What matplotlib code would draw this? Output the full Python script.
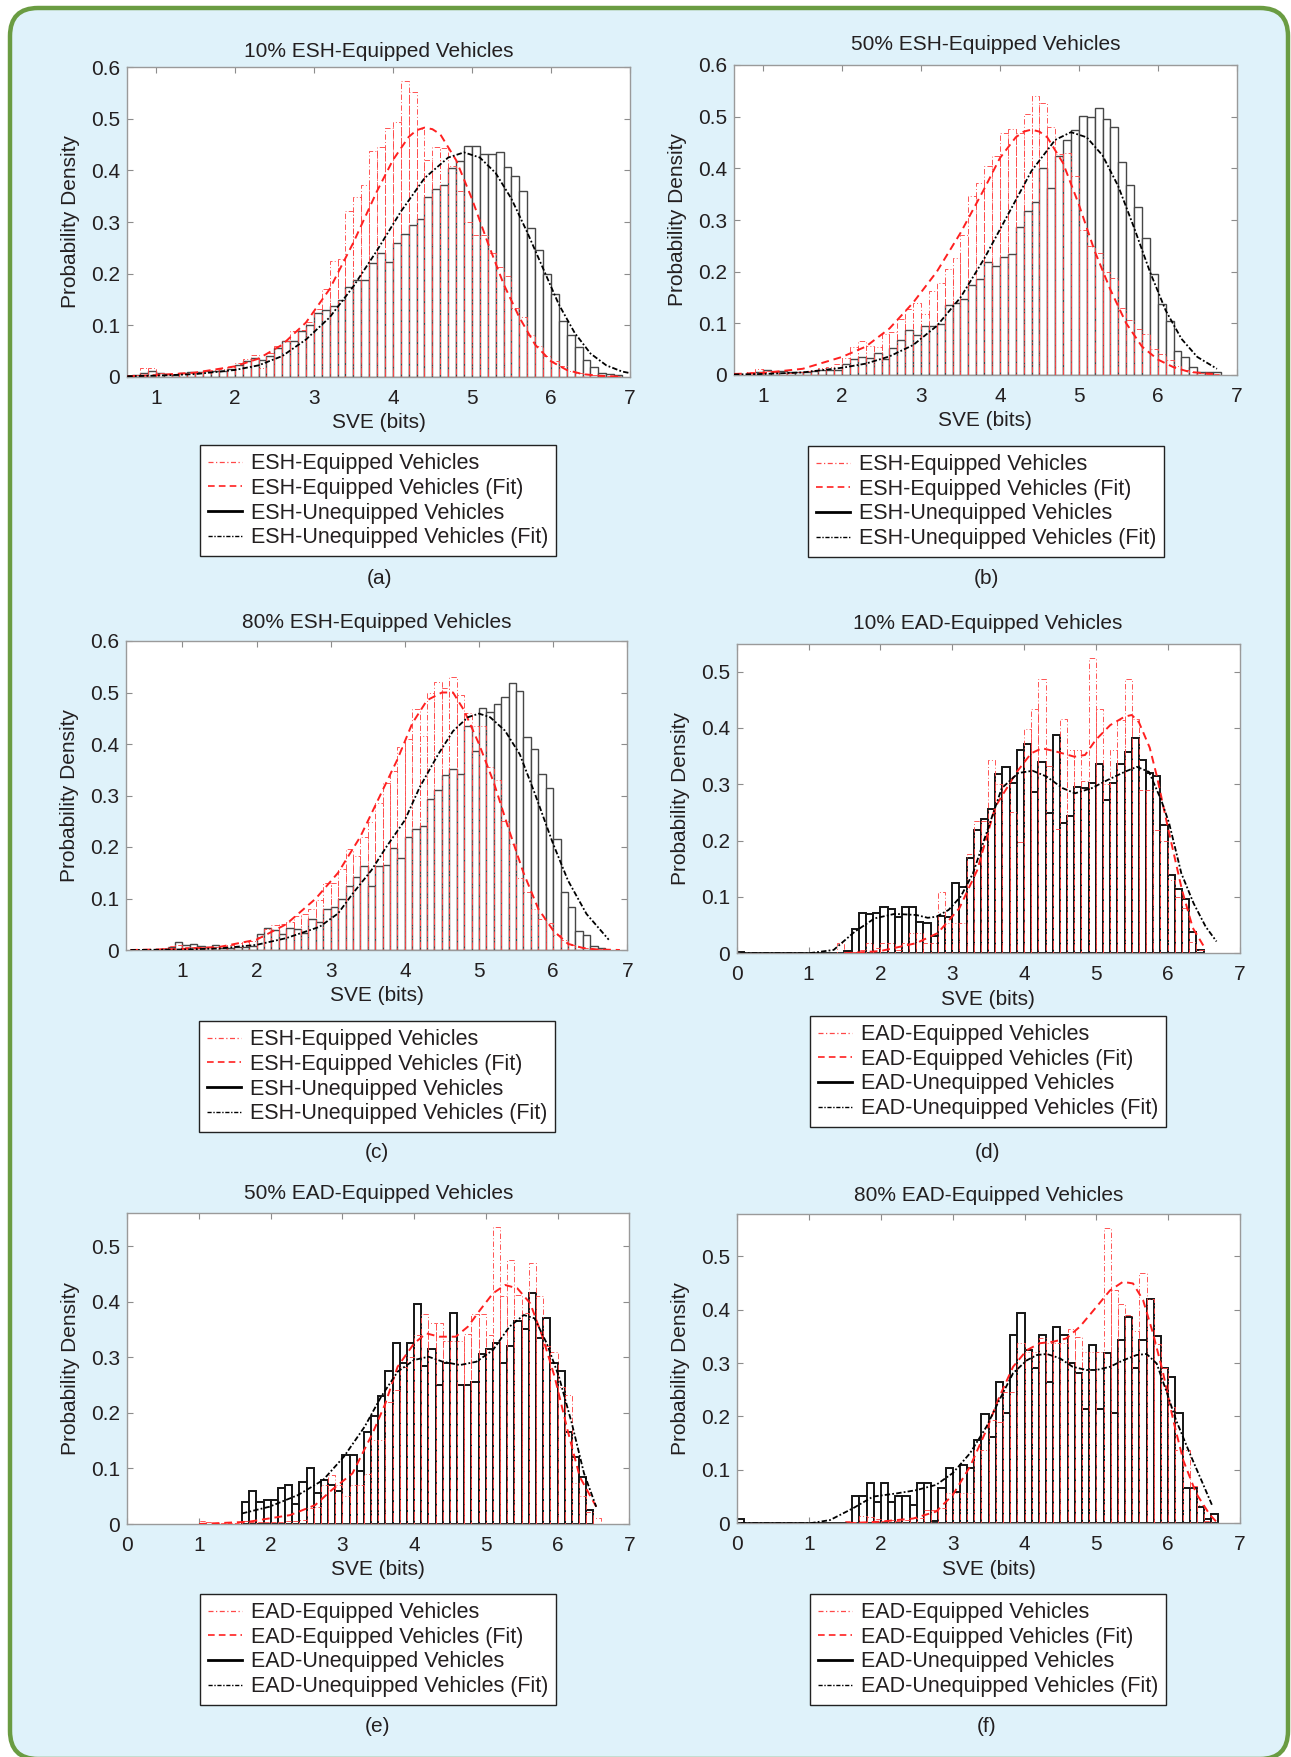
import matplotlib
matplotlib.use('Agg')
import matplotlib.pyplot as plt
import numpy as np
from matplotlib.lines import Line2D
from matplotlib.patches import FancyBboxPatch

plt.rcParams['font.family'] = ['Liberation Sans', 'DejaVu Sans']

BIN_W = 0.1
TXT = '#231f20'
RED = '#ff2020'
RED_EDGE = '#ff4848'

# ---- (a) 10% ESH ----
a_black_start = 0.7
a_black = [0.003, 0.008, 0.011, 0.008, 0.006, 0.004, 0.007, 0.009, 0.010, 0.011,
           0.012, 0.012, 0.014, 0.022, 0.030, 0.037, 0.032, 0.040, 0.055, 0.070,
           0.070, 0.088, 0.101, 0.123, 0.130, 0.138, 0.148, 0.174, 0.187, 0.187,
           0.220, 0.240, 0.223, 0.260, 0.276, 0.295, 0.306, 0.348, 0.364, 0.372,
           0.405, 0.418, 0.448, 0.448, 0.432, 0.432, 0.435, 0.406, 0.390, 0.360,
           0.288, 0.245, 0.199, 0.160, 0.108, 0.081, 0.058, 0.032, 0.018, 0.008,
           0.005, 0.003]
a_red_start = 0.7
a_red = [0.003, 0.017, 0.016, 0.008, 0.005, 0.005, 0.007, 0.008, 0.010, 0.011,
         0.013, 0.015, 0.018, 0.026, 0.034, 0.043, 0.017, 0.045, 0.060, 0.070,
         0.088, 0.090, 0.106, 0.132, 0.170, 0.225, 0.228, 0.322, 0.348, 0.372,
         0.437, 0.445, 0.483, 0.493, 0.574, 0.552, 0.480, 0.420, 0.445, 0.443,
         0.408, 0.360, 0.300, 0.275, 0.275, 0.240, 0.213, 0.196, 0.133, 0.115,
         0.081, 0.060, 0.040, 0.030, 0.020, 0.012, 0.008, 0.005, 0.004, 0.002,
         0.001, 0.001]
a_red_fit_x = [0.64, 1.0, 1.5, 2.0, 2.3, 2.6, 2.9, 3.2, 3.5, 3.8, 4.0, 4.2, 4.3, 4.4,
               4.5, 4.6, 4.8, 5.0, 5.2, 5.4, 5.6, 5.8, 6.0, 6.2, 6.4, 6.6, 6.9]
a_red_fit_y = [0.001, 0.003, 0.008, 0.020, 0.035, 0.062, 0.105, 0.170, 0.260, 0.360,
               0.420, 0.465, 0.478, 0.483, 0.480, 0.470, 0.420, 0.345, 0.260, 0.180,
               0.115, 0.062, 0.030, 0.013, 0.005, 0.002, 0.000]
a_blk_fit_x = [0.64, 1.0, 1.5, 2.0, 2.3, 2.6, 2.9, 3.2, 3.5, 3.8, 4.1, 4.4, 4.7, 4.9,
               5.1, 5.3, 5.5, 5.7, 5.9, 6.1, 6.3, 6.5, 6.7, 6.9, 7.0]
a_blk_fit_y = [0.001, 0.002, 0.005, 0.013, 0.022, 0.040, 0.072, 0.115, 0.175, 0.245,
               0.320, 0.385, 0.425, 0.435, 0.425, 0.395, 0.345, 0.280, 0.210, 0.140,
               0.085, 0.045, 0.022, 0.010, 0.007]

# ---- (b) 50% ESH ----
b_black_start = 0.8
b_black = [0.003, 0.006, 0.010, 0.006, 0.008, 0.005, 0.005, 0.006, 0.007, 0.009,
           0.009, 0.010, 0.022, 0.031, 0.035, 0.033, 0.043, 0.031, 0.052, 0.067,
           0.087, 0.077, 0.095, 0.095, 0.098, 0.135, 0.139, 0.148, 0.174, 0.185,
           0.219, 0.211, 0.228, 0.234, 0.286, 0.318, 0.334, 0.400, 0.361, 0.423,
           0.455, 0.474, 0.501, 0.499, 0.517, 0.495, 0.480, 0.413, 0.368, 0.326,
           0.266, 0.195, 0.137, 0.105, 0.047, 0.034, 0.015, 0.005, 0.005, 0.005]
b_red_start = 0.8
b_red = [0.005, 0.012, 0.007, 0.006, 0.004, 0.004, 0.006, 0.008, 0.009, 0.013,
         0.016, 0.022, 0.033, 0.054, 0.066, 0.056, 0.055, 0.080, 0.083, 0.108,
         0.127, 0.140, 0.118, 0.162, 0.178, 0.205, 0.226, 0.271, 0.347, 0.371,
         0.405, 0.424, 0.468, 0.477, 0.469, 0.506, 0.540, 0.526, 0.480, 0.427,
         0.430, 0.385, 0.280, 0.250, 0.237, 0.200, 0.187, 0.130, 0.106, 0.090,
         0.080, 0.050, 0.040, 0.030, 0.018, 0.010, 0.006, 0.003, 0.002, 0.001]
b_red_fit_x = [0.63, 1.0, 1.5, 2.0, 2.3, 2.6, 2.9, 3.2, 3.5, 3.8, 4.0, 4.2, 4.3, 4.4,
               4.5, 4.6, 4.8, 5.0, 5.2, 5.4, 5.6, 5.8, 6.0, 6.2, 6.4, 6.7]
b_red_fit_y = [0.002, 0.004, 0.012, 0.035, 0.055, 0.090, 0.140, 0.200, 0.275, 0.360,
               0.420, 0.460, 0.471, 0.475, 0.471, 0.460, 0.410, 0.330, 0.240, 0.165,
               0.100, 0.055, 0.030, 0.015, 0.006, 0.002]
b_blk_fit_x = [0.63, 1.0, 1.5, 2.0, 2.3, 2.6, 2.9, 3.2, 3.5, 3.8, 4.1, 4.4, 4.7, 4.9,
               5.1, 5.3, 5.5, 5.7, 5.9, 6.1, 6.3, 6.5, 6.75]
b_blk_fit_y = [0.001, 0.002, 0.005, 0.014, 0.022, 0.036, 0.058, 0.095, 0.150, 0.225,
               0.310, 0.395, 0.455, 0.470, 0.460, 0.425, 0.365, 0.285, 0.200, 0.125,
               0.070, 0.035, 0.012]

# ---- (c) 80% ESH ----
c_black_start = 0.7
c_black = [0.001, 0.006, 0.016, 0.010, 0.011, 0.008, 0.006, 0.009, 0.003, 0.003,
           0.005, 0.006, 0.007, 0.031, 0.043, 0.039, 0.032, 0.043, 0.040, 0.033,
           0.060, 0.055, 0.079, 0.084, 0.100, 0.125, 0.142, 0.163, 0.124, 0.164,
           0.165, 0.199, 0.179, 0.219, 0.234, 0.240, 0.294, 0.310, 0.339, 0.352,
           0.341, 0.435, 0.387, 0.469, 0.463, 0.477, 0.492, 0.519, 0.502, 0.413,
           0.391, 0.341, 0.314, 0.215, 0.112, 0.083, 0.037, 0.029, 0.008, 0.003]
c_red_start = 0.7
c_red = [0.003, 0.008, 0.010, 0.006, 0.005, 0.005, 0.005, 0.006, 0.008, 0.010,
         0.013, 0.016, 0.018, 0.025, 0.040, 0.048, 0.050, 0.055, 0.066, 0.070,
         0.080, 0.097, 0.130, 0.130, 0.158, 0.196, 0.183, 0.220, 0.248, 0.285,
         0.325, 0.347, 0.395, 0.410, 0.467, 0.416, 0.500, 0.520, 0.508, 0.531,
         0.495, 0.460, 0.435, 0.435, 0.355, 0.330, 0.250, 0.205, 0.140, 0.113,
         0.080, 0.060, 0.053, 0.030, 0.020, 0.010, 0.005, 0.003, 0.002, 0.001]
c_red_fit_x = [0.3, 1.0, 1.5, 2.0, 2.4, 2.8, 3.1, 3.4, 3.7, 3.9, 4.1, 4.3, 4.5, 4.65,
               4.8, 5.0, 5.2, 5.4, 5.6, 5.8, 6.0, 6.2, 6.4, 6.6, 6.9]
c_red_fit_y = [0.000, 0.002, 0.006, 0.020, 0.050, 0.100, 0.150, 0.220, 0.310, 0.370,
               0.440, 0.485, 0.500, 0.500, 0.465, 0.400, 0.325, 0.235, 0.150, 0.080,
               0.038, 0.012, 0.004, 0.001, 0.000]
c_blk_fit_x = [0.3, 1.0, 1.5, 2.0, 2.4, 2.85, 3.1, 3.3, 3.55, 3.75, 4.0, 4.2, 4.45,
               4.65, 4.85, 5.0, 5.15, 5.35, 5.55, 5.75, 6.0, 6.2, 6.45, 6.75]
c_blk_fit_y = [0.000, 0.001, 0.003, 0.010, 0.023, 0.045, 0.071, 0.110, 0.155, 0.200,
               0.252, 0.316, 0.380, 0.425, 0.452, 0.459, 0.452, 0.426, 0.380, 0.305,
               0.206, 0.135, 0.070, 0.020]

# ---- (d) 10% EAD ----
d_black_start = 0.0
d_black = [0.002, 0, 0, 0, 0, 0, 0, 0, 0, 0,
           0, 0, 0, 0, 0, 0.004, 0.044, 0.072, 0.069, 0.072,
           0.083, 0.078, 0.064, 0.082, 0.083, 0.056, 0.054, 0.031, 0.067, 0.065,
           0.124, 0.118, 0.170, 0.219, 0.238, 0.256, 0.318, 0.331, 0.302, 0.361,
           0.372, 0.287, 0.340, 0.249, 0.388, 0.232, 0.244, 0.296, 0.293, 0.302,
           0.336, 0.272, 0.302, 0.336, 0.358, 0.382, 0.343, 0.320, 0.315, 0.228,
           0.139, 0.114, 0.096, 0.037, 0.006]
d_red_start = 1.4
d_red = [0.018, 0.002, 0.002, 0.006, 0.018, 0.010, 0.018, 0.018, 0.006, 0.018,
         0.036, 0.036, 0.018, 0.018, 0.108, 0.053, 0.053, 0.053, 0.177, 0.234,
         0.234, 0.343, 0.300, 0.300, 0.250, 0.198, 0.398, 0.433, 0.486, 0.333,
         0.220, 0.415, 0.361, 0.361, 0.305, 0.524, 0.433, 0.300, 0.360, 0.414,
         0.486, 0.415, 0.290, 0.290, 0.219, 0.200, 0.130, 0.100, 0.080, 0.020,
         0.005]
d_red_fit_x = [1.5, 2.0, 2.5, 2.8, 3.1, 3.35, 3.6, 3.9, 4.1, 4.25, 4.45, 4.7, 4.85,
               5.0, 5.2, 5.4, 5.5, 5.6, 5.75, 5.85, 6.0, 6.2, 6.35, 6.5]
d_red_fit_y = [0.000, 0.004, 0.018, 0.036, 0.080, 0.148, 0.260, 0.322, 0.355, 0.364,
               0.358, 0.349, 0.352, 0.379, 0.405, 0.420, 0.423, 0.410, 0.365, 0.314,
               0.225, 0.112, 0.045, 0.013]
d_blk_fit_x = [0.05, 1.0, 1.35, 1.64, 1.92, 2.2, 2.5, 2.66, 2.78, 2.95, 3.12, 3.29,
               3.46, 3.69, 3.92, 4.12, 4.31, 4.54, 4.71, 4.94, 5.17, 5.4, 5.57, 5.74,
               5.91, 6.02, 6.19, 6.36, 6.53, 6.68]
d_blk_fit_y = [0.000, 0.000, 0.006, 0.038, 0.062, 0.070, 0.068, 0.063, 0.065, 0.077,
               0.101, 0.142, 0.207, 0.293, 0.320, 0.324, 0.314, 0.293, 0.284, 0.293,
               0.308, 0.322, 0.331, 0.322, 0.272, 0.231, 0.142, 0.089, 0.047, 0.021]

# ---- (e) 50% EAD ----
e_black_start = 1.6
e_black = [0.040, 0.060, 0.040, 0.044, 0.044, 0.065, 0.070, 0.036, 0.075, 0.100,
           0.055, 0.080, 0.070, 0.060, 0.125, 0.125, 0.095, 0.165, 0.195, 0.230,
           0.275, 0.325, 0.289, 0.325, 0.395, 0.285, 0.315, 0.250, 0.290, 0.380,
           0.250, 0.250, 0.255, 0.305, 0.315, 0.325, 0.290, 0.320, 0.365, 0.350,
           0.415, 0.335, 0.370, 0.290, 0.275, 0.166, 0.121, 0.085, 0.025]
e_red_start = 1.0
e_red = [0.006, 0.003, 0.002, 0.002, 0.002, 0.002, 0.006, 0.004, 0.004, 0.004,
         0.004, 0.004, 0.005, 0.006, 0.008, 0.028, 0.030, 0.070, 0.088, 0.070,
         0.050, 0.070, 0.070, 0.090, 0.151, 0.151, 0.220, 0.241, 0.283, 0.300,
         0.340, 0.378, 0.361, 0.361, 0.330, 0.330, 0.330, 0.341, 0.377, 0.377,
         0.340, 0.534, 0.410, 0.475, 0.412, 0.380, 0.469, 0.410, 0.320, 0.310,
         0.247, 0.232, 0.073, 0.050, 0.022, 0.010]
e_red_fit_x = [1.0, 1.69, 2.27, 2.62, 2.85, 3.14, 3.42, 3.6, 3.77, 4.0, 4.17, 4.35,
               4.58, 4.75, 4.92, 5.1, 5.27, 5.44, 5.62, 5.79, 5.96, 6.14, 6.31, 6.54]
e_red_fit_y = [0.000, 0.004, 0.016, 0.034, 0.061, 0.091, 0.163, 0.217, 0.283, 0.325,
               0.343, 0.337, 0.337, 0.355, 0.385, 0.415, 0.430, 0.424, 0.397, 0.337,
               0.265, 0.169, 0.085, 0.031]
e_blk_fit_x = [1.6, 1.98, 2.38, 2.73, 3.02, 3.31, 3.54, 3.77, 4.0, 4.2, 4.4, 4.64,
               4.87, 5.1, 5.33, 5.53, 5.68, 5.85, 6.02, 6.2, 6.37, 6.54]
e_blk_fit_y = [0.019, 0.031, 0.052, 0.079, 0.121, 0.175, 0.229, 0.274, 0.295, 0.301,
               0.292, 0.286, 0.292, 0.313, 0.355, 0.376, 0.370, 0.325, 0.265, 0.181,
               0.091, 0.031]

# ---- (f) 80% EAD ----
f_black_start = 0.0
f_black = [0.0075, 0, 0, 0, 0, 0, 0, 0, 0, 0,
           0, 0, 0, 0, 0, 0, 0.051, 0.051, 0.076, 0.040,
           0.076, 0.040, 0.051, 0.051, 0.034, 0.076, 0.076, 0.004, 0.067, 0.103,
           0.059, 0.110, 0.103, 0.155, 0.204, 0.162, 0.265, 0.206, 0.352, 0.394,
           0.325, 0.290, 0.352, 0.265, 0.368, 0.352, 0.300, 0.282, 0.214, 0.334,
           0.214, 0.318, 0.206, 0.343, 0.387, 0.291, 0.343, 0.420, 0.351, 0.291,
           0.274, 0.206, 0.067, 0.067, 0.030, 0.0075, 0.017]
f_red_start = 1.5
f_red = [0.004, 0.003, 0.014, 0.012, 0.008, 0.005, 0.006, 0.004, 0.006, 0.009,
         0.009, 0.025, 0.025, 0.028, 0.057, 0.057, 0.057, 0.057, 0.137, 0.137,
         0.193, 0.190, 0.246, 0.246, 0.337, 0.321, 0.321, 0.347, 0.337, 0.337,
         0.337, 0.363, 0.348, 0.320, 0.320, 0.320, 0.552, 0.436, 0.410, 0.390,
         0.360, 0.469, 0.420, 0.335, 0.290, 0.218, 0.137, 0.137, 0.069, 0.034,
         0.004]
f_red_fit_x = [1.52, 1.98, 2.45, 2.77, 3.0, 3.24, 3.47, 3.65, 3.84, 4.03, 4.21, 4.4,
               4.58, 4.77, 5.0, 5.19, 5.37, 5.51, 5.65, 5.79, 5.93, 6.07, 6.21, 6.39,
               6.58, 6.67]
f_red_fit_y = [0.000, 0.003, 0.009, 0.022, 0.053, 0.106, 0.175, 0.237, 0.293, 0.324,
               0.337, 0.340, 0.346, 0.368, 0.405, 0.436, 0.452, 0.449, 0.418, 0.355,
               0.281, 0.193, 0.118, 0.056, 0.016, 0.003]
f_blk_fit_x = [0.05, 1.01, 1.29, 1.61, 1.89, 2.22, 2.49, 2.77, 3.0, 3.24, 3.47, 3.65,
               3.84, 4.03, 4.17, 4.31, 4.49, 4.67, 4.86, 5.0, 5.19, 5.37, 5.56, 5.7,
               5.84, 5.97, 6.11, 6.3, 6.48, 6.62]
f_blk_fit_y = [0.000, 0.000, 0.006, 0.028, 0.050, 0.056, 0.062, 0.072, 0.094, 0.131,
               0.181, 0.231, 0.281, 0.305, 0.315, 0.317, 0.309, 0.293, 0.287, 0.287,
               0.293, 0.305, 0.315, 0.317, 0.299, 0.249, 0.193, 0.131, 0.075, 0.031]

titles = ['10% ESH-Equipped Vehicles', '50% ESH-Equipped Vehicles',
          '80% ESH-Equipped Vehicles', '10% EAD-Equipped Vehicles',
          '50% EAD-Equipped Vehicles', '80% EAD-Equipped Vehicles']
captions = ['(a)', '(b)', '(c)', '(d)', '(e)', '(f)']
esh_labels = ['ESH-Equipped Vehicles', 'ESH-Equipped Vehicles (Fit)',
              'ESH-Unequipped Vehicles', 'ESH-Unequipped Vehicles (Fit)']
ead_labels = ['EAD-Equipped Vehicles', 'EAD-Equipped Vehicles (Fit)',
              'EAD-Unequipped Vehicles', 'EAD-Unequipped Vehicles (Fit)']
esh_xticks = [1, 2, 3, 4, 5, 6, 7]
ead_xticks = [0, 1, 2, 3, 4, 5, 6, 7]
esh_yticks = [0, 0.1, 0.2, 0.3, 0.4, 0.5, 0.6]
ead_yticks = [0, 0.1, 0.2, 0.3, 0.4, 0.5]

W, H = 1291, 1757
fig = plt.figure(figsize=(W / 100, H / 100), dpi=100, facecolor='white')

# rounded blue panel with green frame behind everything
bg = fig.add_axes([0, 0, 1, 1], zorder=-10)
bg.set_xlim(0, W)
bg.set_ylim(H, 0)
bg.axis('off')
bg.add_patch(FancyBboxPatch((10, 8), 1278, 1751, boxstyle='round,pad=0,rounding_size=28',
                            facecolor='#dff2fa', edgecolor='#6a9c42', linewidth=3.2))

RED_HIST = (0, (6, 2.5, 1, 2.5))
RED_FIT = (0, (4, 2.5))
BLK_FIT = (0, (3, 1.2, 1, 1.2))

panels = [
    # box in px (left, top, right, bottom), xlim, ylim top, title pad, legend (cx, top), caption (cx, cy)
    dict(box=(127.3, 67.3, 630, 376.7), xlim=(0.64, 7.0), ytop=0.6, pad=7.5,
         black=(a_black_start, a_black), red=(a_red_start, a_red),
         rfit=(a_red_fit_x, a_red_fit_y), bfit=(a_blk_fit_x, a_blk_fit_y),
         leg=(378, 445), cap=(379, 579), esh=True, ec='#474747', elw=1.0),
    dict(box=(734, 65, 1236.7, 375), xlim=(0.63, 7.0), ytop=0.6, pad=11,
         black=(b_black_start, b_black), red=(b_red_start, b_red),
         rfit=(b_red_fit_x, b_red_fit_y), bfit=(b_blk_fit_x, b_blk_fit_y),
         leg=(986, 446), cap=(986, 579), esh=True, ec='#474747', elw=1.0),
    dict(box=(126, 641, 627.3, 950), xlim=(0.24, 7.0), ytop=0.598, pad=9,
         black=(c_black_start, c_black), red=(c_red_start, c_red),
         rfit=(c_red_fit_x, c_red_fit_y), bfit=(c_blk_fit_x, c_blk_fit_y),
         leg=(377, 1021), cap=(377, 1153), esh=True, ec='#474747', elw=1.0),
    dict(box=(736.7, 644, 1239.5, 953.3), xlim=(0, 7), ytop=0.549, pad=10.5,
         black=(d_black_start, d_black), red=(d_red_start, d_red),
         rfit=(d_red_fit_x, d_red_fit_y), bfit=(d_blk_fit_x, d_blk_fit_y),
         leg=(988, 1016), cap=(987, 1153), esh=False, ec='#151515', elw=1.4),
    dict(box=(127.3, 1213.3, 629.2, 1524), xlim=(0, 7), ytop=0.559, pad=10.5,
         black=(e_black_start, e_black), red=(e_red_start, e_red),
         rfit=(e_red_fit_x, e_red_fit_y), bfit=(e_blk_fit_x, e_blk_fit_y),
         leg=(378, 1594), cap=(378, 1726), esh=False, ec='#151515', elw=1.4),
    dict(box=(737.3, 1214, 1240, 1523.3), xlim=(0, 7), ytop=0.579, pad=9.5,
         black=(f_black_start, f_black), red=(f_red_start, f_red),
         rfit=(f_red_fit_x, f_red_fit_y), bfit=(f_blk_fit_x, f_blk_fit_y),
         leg=(988, 1594), cap=(987, 1726), esh=False, ec='#151515', elw=1.4),
]

for i, p in enumerate(panels):
    l, t, r, b = p['box']
    ax = fig.add_axes([l / W, 1 - b / H, (r - l) / W, (b - t) / H])
    ax.set_facecolor('white')

    start, vals = p['black']
    lefts = np.round(start + BIN_W * np.arange(len(vals)), 2)
    ax.bar(lefts, vals, width=BIN_W, align='edge', color='white',
           edgecolor=p['ec'], linewidth=p['elw'], zorder=2)

    start, vals = p['red']
    lefts = np.round(start + BIN_W * np.arange(len(vals)), 2)
    ax.bar(lefts, vals, width=BIN_W, align='edge', fill=False,
           edgecolor=RED_EDGE, linewidth=0.65, linestyle=RED_HIST, zorder=3)

    ax.plot(*p['rfit'], color=RED, linestyle=RED_FIT, linewidth=1.4, zorder=4)
    ax.plot(*p['bfit'], color='black', linestyle=BLK_FIT, linewidth=1.3, zorder=5)

    ax.set_xlim(*p['xlim'])
    ax.set_ylim(0, p['ytop'])
    xt = esh_xticks if p['esh'] else ead_xticks
    yt = esh_yticks if p['esh'] else ead_yticks
    ax.set_xticks(xt)
    ax.set_xticklabels([str(v) for v in xt])
    ax.set_yticks(yt)
    ax.set_yticklabels(['0'] + ['%.1f' % v for v in yt[1:]])
    ax.tick_params(direction='in', top=True, right=True, length=4, width=0.8,
                   color='#8c8c8c', labelsize=15, labelcolor=TXT, pad=5)
    ax.tick_params(axis='x', pad=8.5)
    for s in ax.spines.values():
        s.set_color('#9a9a9a')
        s.set_linewidth(1.0)

    ax.set_title(titles[i], fontsize=15, color=TXT, pad=p['pad'])
    ax.set_xlabel('SVE (bits)', fontsize=15, color=TXT, labelpad=4)
    ax.set_ylabel('Probability Density', fontsize=15, color=TXT, labelpad=8)

    handles = [Line2D([], [], color=RED_EDGE, linestyle=(0, (4, 2, 1, 2)), linewidth=0.9),
               Line2D([], [], color=RED, linestyle=RED_FIT, linewidth=1.2),
               Line2D([], [], color='black', linewidth=2.0),
               Line2D([], [], color='black', linestyle=BLK_FIT, linewidth=1.0)]
    leg = ax.legend(handles, esh_labels if p['esh'] else ead_labels,
                    loc='upper center', bbox_to_anchor=(p['leg'][0] / W, 1 - p['leg'][1] / H),
                    bbox_transform=fig.transFigure, fontsize=15.5, frameon=True,
                    fancybox=False, framealpha=1, edgecolor='#222222',
                    handlelength=1.6, handletextpad=0.4, labelspacing=0.17,
                    borderpad=0.38, borderaxespad=0)
    leg.get_frame().set_linewidth(1.0)
    for txt in leg.get_texts():
        txt.set_color(TXT)

    fig.text(p['cap'][0] / W, 1 - p['cap'][1] / H, captions[i], ha='center',
             va='center', fontsize=15, color=TXT)

plt.savefig('out.png', dpi=100, facecolor=fig.get_facecolor())
